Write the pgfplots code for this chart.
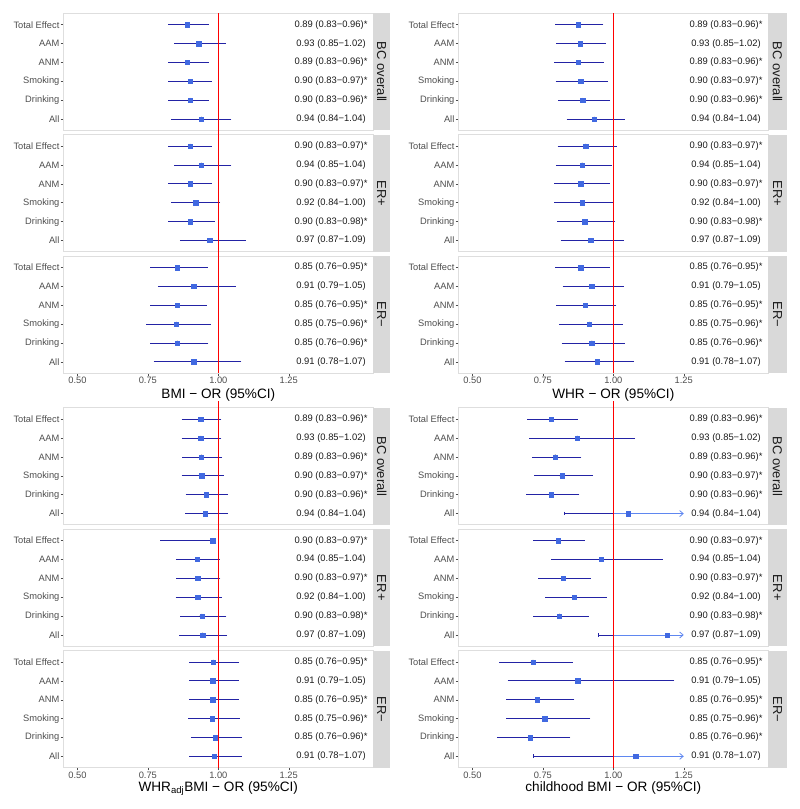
\documentclass[border=0pt]{standalone}
\usepackage{fontspec}
\setmainfont{Liberation Sans}
\usepackage{pgfplots}
\pgfplotsset{compat=1.18}
\usepackage{pgfplotstable}
\usetikzlibrary{arrows.meta}
\definecolor{errblue}{RGB}{35,35,165}
\definecolor{ptblue}{RGB}{65,105,225}
\definecolor{arrblue}{RGB}{95,135,240}
\definecolor{bordergray}{RGB}{222,222,222}
\definecolor{stripgray}{RGB}{217,217,217}
\definecolor{ticktext}{RGB}{77,77,77}
\definecolor{labtext}{RGB}{26,26,26}
\definecolor{refred}{RGB}{255,0,0}

% rows: 6=Total Effect, 5=AAM, 4=ANM, 3=Smoking, 2=Drinking, 1=All
% ---------- BMI ----------
\pgfplotstableread{
row or lo hi
6 0.89 0.83 0.96
5 0.93 0.85 1.02
4 0.89 0.83 0.96
3 0.90 0.83 0.97
2 0.90 0.83 0.96
1 0.94 0.84 1.04
}\tAa
\pgfplotstableread{
row or lo hi
6 0.90 0.83 0.97
5 0.94 0.85 1.04
4 0.90 0.83 0.97
3 0.92 0.84 1.00
2 0.90 0.83 0.98
1 0.97 0.87 1.09
}\tAb
\pgfplotstableread{
row or lo hi
6 0.855 0.765 0.955
5 0.913 0.792 1.055
4 0.854 0.765 0.953
3 0.851 0.751 0.966
2 0.855 0.765 0.958
1 0.913 0.777 1.075
}\tAc
% ---------- WHR ----------
\pgfplotstableread{
row or lo hi
6 0.876 0.800 0.958
5 0.883 0.804 0.967
4 0.876 0.798 0.960
3 0.885 0.802 0.975
2 0.892 0.811 0.982
1 0.932 0.841 1.033
}\tBa
\pgfplotstableread{
row or lo hi
6 0.902 0.809 1.006
5 0.890 0.803 0.988
4 0.885 0.798 0.981
3 0.889 0.797 0.993
2 0.899 0.808 1.000
1 0.920 0.820 1.032
}\tBb
\pgfplotstableread{
row or lo hi
6 0.885 0.800 0.981
5 0.924 0.827 1.031
4 0.900 0.805 1.004
3 0.915 0.814 1.026
2 0.924 0.823 1.034
1 0.943 0.834 1.067
}\tBc
% ---------- WHRadjBMI ----------
\pgfplotstableread{
row or lo hi
6 0.938 0.877 1.004
5 0.938 0.877 1.004
4 0.940 0.879 1.007
3 0.941 0.877 1.012
2 0.957 0.891 1.028
1 0.954 0.889 1.028
}\tCa
\pgfplotstableread{
row or lo hi
6 0.980 0.800 0.985
5 0.925 0.856 0.999
4 0.927 0.858 1.001
3 0.927 0.855 1.005
2 0.942 0.872 1.022
1 0.944 0.869 1.025
}\tCb
\pgfplotstableread{
row or lo hi
6 0.982 0.903 1.067
5 0.980 0.903 1.065
4 0.980 0.903 1.066
3 0.978 0.900 1.069
2 0.991 0.909 1.078
1 0.985 0.903 1.076
}\tCc
% ---------- childhood BMI (row 1 = All drawn with arrow) ----------
\pgfplotstableread{
row or lo hi
6 0.780 0.701 0.868
5 0.872 0.709 1.071
4 0.794 0.718 0.880
3 0.818 0.726 0.922
2 0.780 0.697 0.873
}\tDa
\pgfplotstableread{
row or lo hi
6 0.804 0.722 0.892
5 0.958 0.786 1.169
4 0.822 0.741 0.913
3 0.861 0.766 0.970
2 0.809 0.722 0.906
}\tDb
\pgfplotstableread{
row or lo hi
6 0.715 0.602 0.850
5 0.874 0.632 1.210
4 0.731 0.626 0.855
3 0.756 0.627 0.912
2 0.706 0.594 0.841
}\tDc

\pgfplotsset{
  facet/.style={
    scale only axis, width=310pt, height=117pt, anchor=north west,
    xmin=0.45, xmax=1.55, ymin=0.4, ymax=6.6,
    clip=false,
    axis line style={bordergray, line width=0.8pt},
    ytick={1,...,6},
    yticklabels={All,Drinking,Smoking,ANM,AAM,Total Effect},
    yticklabel style={font=\fontsize{9.3}{11}\selectfont, text=ticktext, inner sep=1pt},
    tick style={ticktext, line width=0.5pt},
    tick align=outside, major tick length=2.75pt,
    tick pos=left,
    xtick=\empty,
  },
  bottomfacet/.style={
    xtick={0.5,0.75,1,1.25},
    xticklabels={0.50,0.75,1.00,1.25},
    xticklabel style={font=\fontsize{9.3}{11}\selectfont, text=ticktext, inner sep=1pt},
  },
  % transparent overlay axis spanning a whole panel, holding the OR = 1 line
  refaxis/.style={
    scale only axis, width=310pt, height=#1pt, anchor=north west,
    xmin=0.45, xmax=1.55, ymin=0, ymax=1,
    axis lines=none, clip=false, xtick=\empty, ytick=\empty,
  },
}

\newcommand{\forest}[1]{%
  \addplot[only marks, mark=none, error bars/.cd, x dir=both, x explicit,
    error bar style={errblue, line width=0.8pt},
    error mark options={errblue, line width=0.8pt, mark size=1.9pt}]
    table[x=or, y=row, x error minus expr=\thisrow{or}-\thisrow{lo},
          x error plus expr=\thisrow{hi}-\thisrow{or}] {#1};
  \addplot[only marks, mark=square*, mark size=2.2pt,
    mark options={draw=ptblue, fill=ptblue}] table[x=or, y=row] {#1};
}
\newcommand{\arrowrow}[3]{% lo, or, row
  \addplot[errblue, line width=0.8pt] coordinates {(#1,#3) (1,#3)};
  \addplot[only marks, mark=|, mark size=1.9pt, mark options={errblue, line width=0.8pt}] coordinates {(#1,#3)};
  \addplot[arrblue, line width=0.8pt, -{Straight Barb[length=3.5pt,width=6pt]}] coordinates {(1,#3) (1.25,#3)};
  \addplot[only marks, mark=square*, mark size=2.2pt, mark options={draw=ptblue, fill=ptblue}] coordinates {(#2,#3)};
}
\newcommand{\strip}[2]{%
  \fill[stripgray] (rel axis cs:1,0) rectangle ([xshift=#2pt]rel axis cs:1,1);
  \node[rotate=-90, font=\fontsize{13}{15}\selectfont, text=labtext]
    at ([xshift=#2pt/2]rel axis cs:1,0.5) {#1};}
\newcommand{\lab}[2]{\node[font=\fontsize{9.4}{11}\selectfont, text=labtext] at (axis cs:1.40,#1) {#2};}
\newcommand{\labsBC}{%
  \lab{6}{0.89 (0.83−0.96)*}\lab{5}{0.93 (0.85−1.02)}\lab{4}{0.89 (0.83−0.96)*}%
  \lab{3}{0.90 (0.83−0.97)*}\lab{2}{0.90 (0.83−0.96)*}\lab{1}{0.94 (0.84−1.04)}}
\newcommand{\labsERp}{%
  \lab{6}{0.90 (0.83−0.97)*}\lab{5}{0.94 (0.85−1.04)}\lab{4}{0.90 (0.83−0.97)*}%
  \lab{3}{0.92 (0.84−1.00)}\lab{2}{0.90 (0.83−0.98)*}\lab{1}{0.97 (0.87−1.09)}}
\newcommand{\labsERm}{%
  \lab{6}{0.85 (0.76−0.95)*}\lab{5}{0.91 (0.79−1.05)}\lab{4}{0.85 (0.76−0.95)*}%
  \lab{3}{0.85 (0.75−0.96)*}\lab{2}{0.85 (0.76−0.96)*}\lab{1}{0.91 (0.78−1.07)}}
\newcommand{\xtitle}[2]{\node[font=\fontsize{13.6}{16}\selectfont, anchor=base]
  at ([yshift=-#1pt]rel axis cs:0.5,0) {#2};}
% overlay axis with the red reference line: #1 x, #2 top y, #3 height
\newcommand{\refpanel}[3]{%
  \begin{axis}[refaxis=#3, at={(#1pt,#2pt)}]
    \addplot[color=refred, line width=1.2pt, mark=none] coordinates {(1,0) (1,1)};
  \end{axis}}

\begin{document}
\begin{tikzpicture}
\useasboundingbox (0pt,0pt) rectangle (800pt,809pt);
% ================= BMI (top left) =================
\begin{axis}[facet, at={(63.3pt,795.6pt)}]
\forest{\tAa}\strip{BC overall}{16.7}\labsBC
\end{axis}
\begin{axis}[facet, at={(63.3pt,674.2pt)}]
\forest{\tAb}\strip{ER+}{16.7}\labsERp
\end{axis}
\begin{axis}[facet, bottomfacet, at={(63.3pt,552.8pt)}]
\forest{\tAc}\strip{ER−}{16.7}\labsERm
\xtitle{25}{BMI − OR (95\%CI)}
\end{axis}
% ================= WHR (top right) =================
\begin{axis}[facet, at={(458.3pt,795.6pt)}]
\forest{\tBa}\strip{BC overall}{18.4}\labsBC
\end{axis}
\begin{axis}[facet, at={(458.3pt,674.2pt)}]
\forest{\tBb}\strip{ER+}{18.4}\labsERp
\end{axis}
\begin{axis}[facet, bottomfacet, at={(458.3pt,552.8pt)}]
\forest{\tBc}\strip{ER−}{18.4}\labsERm
\xtitle{25}{WHR − OR (95\%CI)}
\end{axis}
% ================= WHRadjBMI (bottom left) =================
\begin{axis}[facet, at={(63.3pt,401.1pt)}]
\forest{\tCa}\strip{BC overall}{16.7}\labsBC
\end{axis}
\begin{axis}[facet, at={(63.3pt,279.7pt)}]
\forest{\tCb}\strip{ER+}{16.7}\labsERp
\end{axis}
\begin{axis}[facet, bottomfacet, at={(63.3pt,158.3pt)}]
\forest{\tCc}\strip{ER−}{16.7}\labsERm
\xtitle{24}{WHR\textsubscript{adj}BMI − OR (95\%CI)}
\end{axis}
% ================= childhood BMI (bottom right) =================
\begin{axis}[facet, at={(458.3pt,401.1pt)}]
\forest{\tDa}\arrowrow{0.826}{1.052}{1}\strip{BC overall}{18.4}\labsBC
\end{axis}
\begin{axis}[facet, at={(458.3pt,279.7pt)}]
\forest{\tDb}\arrowrow{0.947}{1.191}{1}\strip{ER+}{18.4}\labsERp
\end{axis}
\begin{axis}[facet, bottomfacet, at={(458.3pt,158.3pt)}]
\forest{\tDc}\arrowrow{0.717}{1.080}{1}\strip{ER−}{18.4}\labsERm
\xtitle{24}{childhood BMI − OR (95\%CI)}
\end{axis}
% ================= red reference lines at OR = 1 =================
\refpanel{63.3}{795.6}{359.8}
\refpanel{458.3}{795.6}{359.8}
\refpanel{63.3}{408.1}{366.8}
\refpanel{458.3}{408.1}{366.8}
\end{tikzpicture}
\end{document}
